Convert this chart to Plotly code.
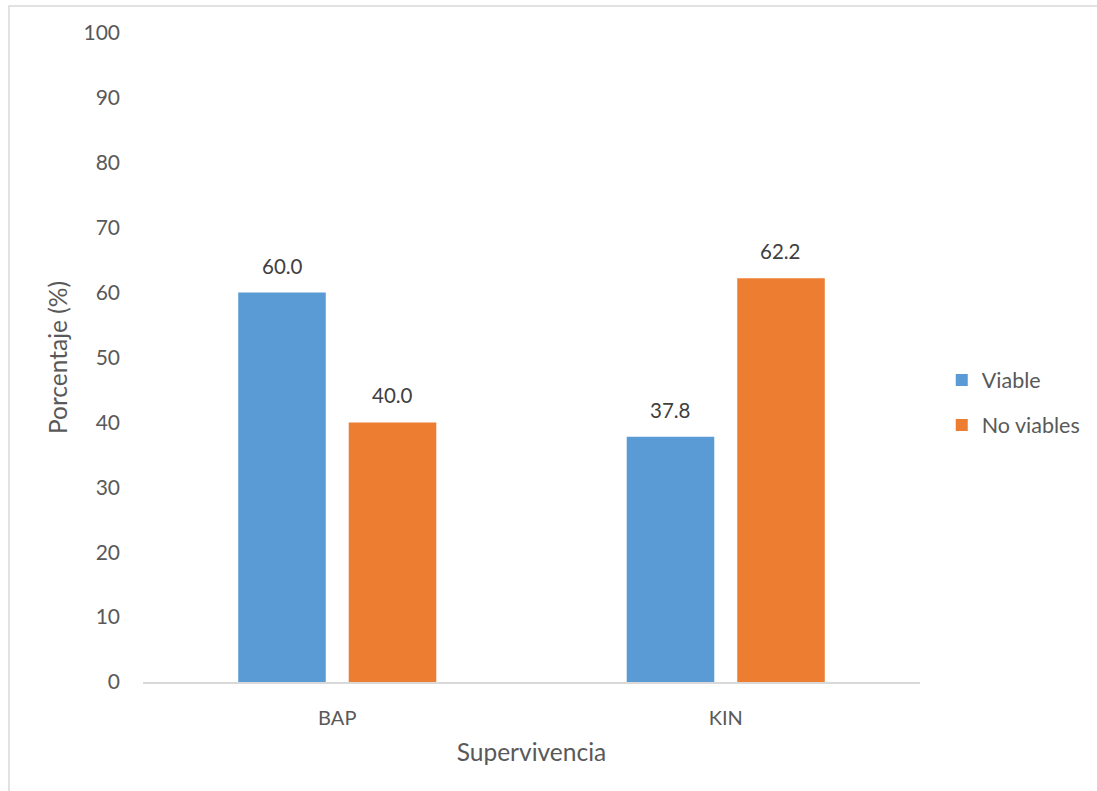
import plotly.graph_objects as go

categories = ["BAP", "KIN"]
viable = [60.0, 37.8]
no_viables = [40.0, 62.2]
series_names = ["Viable", "No viables"]
y_ticks = [0, 10, 20, 30, 40, 50, 60, 70, 80, 90, 100]

W, H = 1097, 791
L, R, T, B = 143, 177, 33, 109

FONT = "Lato, 'Open Sans', sans-serif"
GRAY = "#595959"
COLORS = ["#5b9bd5", "#ed7d31"]

fig = go.Figure()
series = [viable, no_viables]
for i, (name, vals) in enumerate(zip(series_names, series)):
    fig.add_trace(go.Bar(
        x=categories, y=vals, name=name,
        marker=dict(color=COLORS[i], line=dict(width=0)),
        legend="legend" if i == 0 else "legend2",
    ))

# Value labels above each bar, offset to the bar's slot within its group
slot_px = 55
for i, vals in enumerate(series):
    for cat, v in zip(categories, vals):
        fig.add_annotation(
            x=cat, y=v, xref="x", yref="y", text=f"{v:.1f}",
            showarrow=False, xanchor="center", yanchor="bottom",
            xshift=(-slot_px if i == 0 else slot_px), yshift=13,
            font=dict(family=FONT, size=20.5, color="#404040"),
        )

# Chart border (light gray frame)
pw, ph = W - L - R, H - T - B
fig.add_shape(type="rect", xref="paper", yref="paper",
              x0=(9 - L) / pw, x1=(W + 5 - L) / pw,
              y0=(H - B - (H + 5)) / ph, y1=(H - B - 6) / ph,
              line=dict(color="#d9d9d9", width=1.5), fillcolor="rgba(0,0,0,0)",
              layer="below")

legend_common = dict(xanchor="left", yanchor="middle", x=1.028,
                     font=dict(family=FONT, size=21.5, color=GRAY),
                     bgcolor="rgba(0,0,0,0)", itemwidth=30)

fig.update_layout(
    width=W, height=H,
    margin=dict(l=L, r=R, t=T, b=B, autoexpand=False),
    paper_bgcolor="white", plot_bgcolor="white",
    barmode="group", bargap=0.431, bargroupgap=0.208,
    font=dict(family=FONT, color=GRAY, size=18),
    showlegend=True,
    legend=dict(y=(682 - 380) / ph, **legend_common),
    legend2=dict(y=(682 - 425) / ph, **legend_common),
    xaxis=dict(
        showline=True, linecolor="#d9d9d9", linewidth=1.5,
        showgrid=False, ticks="", tickfont=dict(size=20, color=GRAY),
        ticklabelstandoff=17,
        title=dict(text="Supervivencia", font=dict(size=24.5, color=GRAY), standoff=16),
    ),
    yaxis=dict(
        range=[0, 100], tickvals=y_ticks, showgrid=False, zeroline=False,
        showline=False, ticks="", tickfont=dict(size=21, color=GRAY),
        ticklabelstandoff=22,
        title=dict(text="Porcentaje (%)", font=dict(size=24.5, color=GRAY), standoff=8),
    ),
)

fig.write_html("out.html")
